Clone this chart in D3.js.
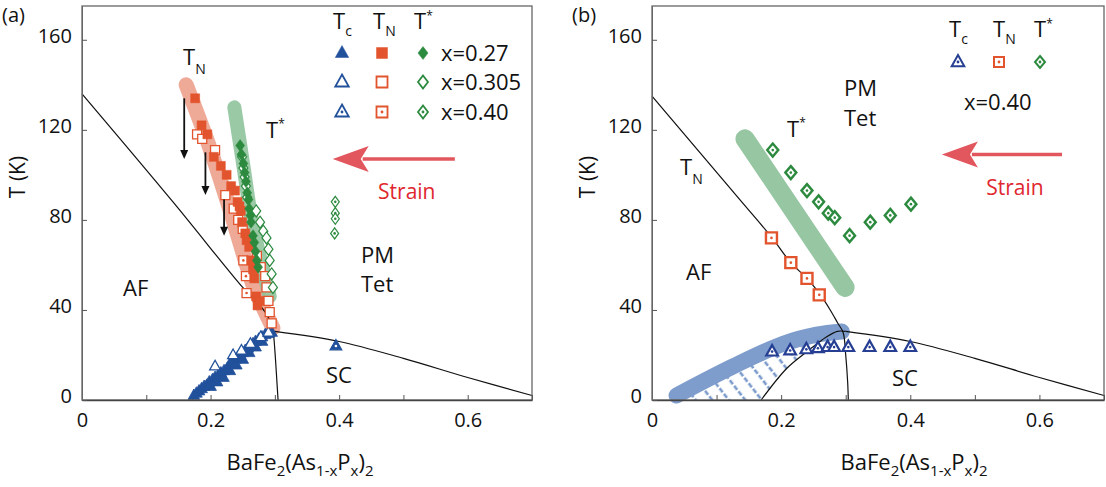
<!DOCTYPE html>
<html>
<head>
<meta charset="utf-8">
<script src="https://cdn.jsdelivr.net/npm/d3@7"></script>
<style>
body { margin: 0; background: #fff; }
text { font-family: "Open Sans", sans-serif; fill: #111; }
</style>
</head>
<body>
<div id="chart"></div>
<script>
// axis ticks
var xTickVals = [0, 0.1, 0.2, 0.3, 0.4, 0.5, 0.6, 0.7];
var xLabelVals = [0, 0.2, 0.4, 0.6];
var yTickVals = [0, 40, 80, 120, 160];

// ---- panel (a) data: [x, T] ----
var aTcFilled = [[0.174,2],[0.178,3],[0.182,4],[0.186,5],[0.19,6],[0.194,6.5],[0.198,8],[0.203,9],[0.207,10],
  [0.212,11],[0.216,12],[0.221,13],[0.226,14],[0.23,16],[0.234,16.5],[0.238,18],[0.242,19],[0.246,20],
  [0.25,21],[0.254,22],[0.258,23],[0.262,24],[0.266,25],[0.27,26],[0.275,27],[0.28,28],[0.285,29],
  [0.29,29.5],[0.295,30],[0.2,6],[0.21,8],[0.22,10],[0.23,13],[0.24,15.5],[0.25,18],[0.26,21],[0.27,23.5],[0.28,26]];
var aTcOpen = [[0.207,15],[0.235,20],[0.248,22],[0.262,25],[0.278,28],[0.29,30]];
var aTcDot = [[0.395,24]];
var aTnFilled = [[0.176,134],[0.186,122],[0.195,118],[0.205,108],[0.216,104],[0.225,100],[0.232,95],
  [0.238,93],[0.242,88],[0.245,86],[0.247,84],[0.249,79],[0.254,74],[0.256,71],[0.26,68],[0.263,62],
  [0.266,58],[0.268,54],[0.271,46],[0.273,42],[0.276,44]];
var aTnOpen = [[0.179,118],[0.187,116],[0.207,111],[0.223,91],[0.236,85],[0.243,80],[0.25,76],[0.26,72],
  [0.272,64],[0.278,59],[0.285,55],[0.287,50],[0.29,44],[0.292,39],[0.295,34]];
var aTnDot = [[0.251,62],[0.255,55],[0.256,47.5]];
var aTsFilled = [[0.246,113],[0.248,109],[0.251,105],[0.253,101],[0.255,97],[0.257,92],[0.259,89],[0.26,85],
  [0.262,82],[0.263,79],[0.266,73],[0.268,70],[0.27,66],[0.272,62],[0.274,59]];
var aTsOpen = [[0.249,108],[0.251,103],[0.253,99],[0.255,95],[0.257,90],[0.271,84],[0.277,79],[0.282,75],
  [0.287,72],[0.29,67],[0.292,62],[0.295,56],[0.297,50]];
var aTsDot = [[0.394,88],[0.394,83],[0.394,80.5],[0.393,74]];
var aTnLine = [[0,136],[0.1415,88],[0.25,50],[0.27,44],[0.285,39],[0.296,32.5],[0.298,29],[0.301,18],[0.303,9],[0.305,0]];
var aScLeft = [[0.171,0],[0.3,30.5]];
var aScRight = [[0.3,30.5],[0.4,26],[0.5,18.5],[0.6,10],[0.7,2]];
var aTnBand = [[0.162,140],[0.2,111],[0.235,80],[0.265,52],[0.277,44],[0.297,32]];
var aTsBand = [[0.237,130],[0.25,106],[0.264,80],[0.278,62],[0.292,46]];
var aDownArrows = [[0.159,134,107],[0.192,110,91],[0.221,89,73]];
var aStrain = [0.58, 0.39, 107]; // tail x, tip x, T

// ---- panel (b) data ----
var bTcDot = [[0.186,21.5],[0.214,22],[0.239,22.5],[0.257,23],[0.272,23.5],[0.282,23.5],[0.304,23.5],
  [0.337,23.5],[0.369,23.5],[0.40,23.5]];
var bTnDot = [[0.185,72],[0.215,61],[0.24,54],[0.259,46.7]];
var bTsDot = [[0.187,111],[0.215,101],[0.24,93],[0.258,88],[0.273,83],[0.283,81],[0.306,73],[0.338,79],[0.369,82],[0.401,87]];
var bTnLine = [[0,135],[0.136,89],[0.186,72],[0.215,61],[0.24,54],[0.26,47],[0.276,40],[0.288,34],[0.296,30],
  [0.3,20],[0.303,8],[0.304,0]];
var bScLeft = [[0.169,0],[0.2085,14],[0.24,21.5],[0.27,28],[0.287,30.5],[0.3,30.5]];
var bScRight = [[0.3,30.5],[0.4,26],[0.5,18.5],[0.6,10],[0.7,2]];
var bTcBand = [[0.038,2],[0.126,15],[0.2035,25],[0.255,29],[0.294,30.4]];
var bTsBand = [[0.144,116],[0.299,50]];
var bHatch = [[0.05,0],[0.045,3],[0.126,16],[0.2035,26],[0.255,30],[0.262,29],[0.255,26],[0.24,21.5],[0.2085,14],[0.169,0]];
var bStrain = [0.635, 0.449, 109];

var blue = "#22519c", orange = "#e2542d", green = "#2c8a3f";

var svg = d3.select("#chart").append("svg")
  .attr("width", 1106).attr("height", 487);

var defs = svg.append("defs");
var pat = defs.append("pattern")
  .attr("id", "hatch").attr("patternUnits", "userSpaceOnUse")
  .attr("width", 13).attr("height", 14)
  .attr("patternTransform", "rotate(-38)");
pat.append("line").attr("x1", 3).attr("x2", 3).attr("y1", 0).attr("y2", 14)
  .attr("stroke", "#7b9bcc").attr("stroke-width", 2.6).attr("stroke-dasharray", "5,2");

function triPath(r) {
  return "M0," + (-r) + "L" + (r*0.9) + "," + (r*0.6) + "L" + (-r*0.9) + "," + (r*0.6) + "Z";
}
function sqPath(h) {
  return "M" + (-h) + "," + (-h) + "H" + h + "V" + h + "H" + (-h) + "Z";
}
function diaPath(w, h) {
  return "M0," + (-h) + "L" + w + ",0L0," + h + "L" + (-w) + ",0Z";
}

function sub(t, main, s, dy, fs) {
  t.append("tspan").text(main);
  t.append("tspan").attr("dy", dy).attr("font-size", fs).text(s);
}

function drawPanel(o) {
  var x = d3.scaleLinear().domain([0, 0.7]).range([o.left, o.right]);
  var y = d3.scaleLinear().domain([0, 175]).range([o.bottom, 6]);
  var g = svg.append("g");
  var line = d3.line().x(function(d) { return x(d[0]); }).y(function(d) { return y(d[1]); });
  var smooth = d3.line().x(function(d) { return x(d[0]); }).y(function(d) { return y(d[1]); })
    .curve(d3.curveCatmullRom);

  // hatched area
  if (o.hatch) {
    g.append("path").datum(o.hatch).attr("d", line(o.hatch) + "Z")
      .attr("fill", "url(#hatch)").attr("stroke", "none");
  }

  // thick guide bands
  o.bands.forEach(function(b) {
    g.append("path").datum(b.data).attr("d", smooth)
      .attr("fill", "none").attr("stroke", b.color).attr("stroke-width", b.w)
      .attr("stroke-linecap", "round").attr("stroke-linejoin", "round")
      .attr("opacity", b.op);
  });

  // phase boundary lines
  [o.tnLine, o.scLeft, o.scRight].forEach(function(l) {
    g.append("path").datum(l).attr("d", smooth)
      .attr("fill", "none").attr("stroke", "#111").attr("stroke-width", 1.2);
  });

  // markers
  o.marks.forEach(function(m) {
    var sel = g.append("g").selectAll("g").data(m.data).join("g")
      .attr("transform", function(d) { return "translate(" + x(d[0]) + "," + y(d[1]) + ")"; });
    sel.append("path").attr("d", m.shape)
      .attr("fill", m.fill ? m.color : "#fff")
      .attr("stroke", m.color).attr("stroke-width", m.sw);
    if (m.dot) sel.append("circle").attr("r", 1.3).attr("fill", m.fill ? "#fff" : m.color);
  });

  // frame
  g.append("rect").attr("x", o.left).attr("y", y(175))
    .attr("width", o.right - o.left).attr("height", o.bottom - y(175))
    .attr("fill", "none").attr("stroke", "#666").attr("stroke-width", 1.3);

  var xa = g.append("g").attr("transform", "translate(0," + o.bottom + ")")
    .call(d3.axisBottom(x).tickValues(xTickVals).tickSizeInner(-5).tickSizeOuter(0).tickPadding(13)
      .tickFormat(function(d) {
        var k = Math.round(d * 10);
        if (k === 0) return "0";
        return xLabelVals.indexOf(k / 10) >= 0 ? (k / 10).toFixed(1) : "";
      }));
  xa.select(".domain").attr("stroke", "#444").attr("stroke-width", 1.5);
  xa.selectAll(".tick line").attr("stroke", "#555");
  xa.selectAll("text").attr("font-size", 20).attr("font-family", "Open Sans").attr("fill", "#111");

  var ya = g.append("g").attr("transform", "translate(" + o.left + ",0)")
    .call(d3.axisLeft(y).tickValues(yTickVals).tickSizeInner(-5).tickSizeOuter(0).tickPadding(10));
  ya.select(".domain").attr("stroke", "#666");
  ya.selectAll(".tick line").attr("stroke", "#555");
  ya.selectAll("text").attr("font-size", 20).attr("font-family", "Open Sans").attr("fill", "#111")
    .attr("y", -4);

  // axis titles
  var xt = g.append("text").attr("x", o.titleX).attr("y", 470).attr("text-anchor", "middle")
    .attr("font-size", 22);
  xt.append("tspan").text("BaFe");
  xt.append("tspan").attr("dy", 6).attr("font-size", 15).text("2");
  xt.append("tspan").attr("dy", -6).text("(As");
  xt.append("tspan").attr("dy", 6).attr("font-size", 15).text("1-x");
  xt.append("tspan").attr("dy", -6).text("P");
  xt.append("tspan").attr("dy", 6).attr("font-size", 15).text("x");
  xt.append("tspan").attr("dy", -6).text(")");
  xt.append("tspan").attr("dy", 6).attr("font-size", 15).text("2");

  g.append("text").attr("transform", "translate(" + (o.left - 57) + ",177) rotate(-90)")
    .attr("text-anchor", "middle").attr("font-size", 21).text("T (K)");
  g.append("text").attr("x", o.left - 80).attr("y", 22).attr("font-size", 20).text(o.tag);

  // strain arrow
  var sx0 = x(o.strain[0]), sx1 = x(o.strain[1]), sy = y(o.strain[2]);
  g.append("line").attr("x1", sx0).attr("x2", sx1 + 30).attr("y1", sy).attr("y2", sy)
    .attr("stroke", "#e2575e").attr("stroke-width", 3.5);
  g.append("path").attr("d", "M" + sx1 + "," + sy + "L" + (sx1 + 36) + "," + (sy - 13) +
      "L" + (sx1 + 28) + "," + sy + "L" + (sx1 + 36) + "," + (sy + 13) + "Z")
    .attr("fill", "#e2575e");
  g.append("text").attr("x", (sx0 + sx1) / 2 + 13).attr("y", sy + 40).attr("text-anchor", "middle")
    .attr("font-size", 21).style("fill", "#e0262e").text("Strain");

  return {x: x, y: y, g: g};
}

// ---------- panel (a) ----------
var pa = drawPanel({
  left: 82, right: 532, bottom: 400, titleX: 300, tag: "(a)",
  tnLine: aTnLine, scLeft: aScLeft, scRight: aScRight, strain: aStrain,
  bands: [
    {data: aTnBand, color: "#eb9a85", w: 15, op: 0.85},
    {data: aTsBand, color: "#8fc39c", w: 14, op: 0.9}
  ],
  marks: [
    {data: aTcFilled, shape: triPath(6.5), color: blue, fill: true, sw: 0.8},
    {data: aTcOpen, shape: triPath(6), color: blue, fill: false, sw: 1.3},
    {data: aTcDot, shape: triPath(6.5), color: blue, fill: true, sw: 1.2, dot: true},
    {data: aTnOpen, shape: sqPath(4.5), color: orange, fill: false, sw: 1.3},
    {data: aTnDot, shape: sqPath(4.5), color: orange, fill: false, sw: 1.3, dot: true},
    {data: aTnFilled, shape: sqPath(4.5), color: orange, fill: true, sw: 0.5},
    {data: aTsOpen, shape: diaPath(4.5, 6), color: green, fill: false, sw: 1.2},
    {data: aTsDot, shape: diaPath(4, 5.5), color: green, fill: false, sw: 1.2, dot: true},
    {data: aTsFilled, shape: diaPath(4.5, 6), color: green, fill: true, sw: 0.5}
  ]
});

aDownArrows.forEach(function(a) {
  var xx = pa.x(a[0]), y0 = pa.y(a[1]), y1 = pa.y(a[2]);
  pa.g.append("line").attr("x1", xx).attr("x2", xx).attr("y1", y0).attr("y2", y1 - 6)
    .attr("stroke", "#111").attr("stroke-width", 1.8);
  pa.g.append("path").attr("d", "M" + (xx - 4) + "," + (y1 - 9) + "L" + (xx + 4) + "," + (y1 - 9) + "L" + xx + "," + y1 + "Z")
    .attr("fill", "#111");
});

var ta = pa.g;
sub(ta.append("text").attr("x", 183).attr("y", 65).attr("font-size", 22), "T", "N", 9, 14);
var ts = ta.append("text").attr("x", 266).attr("y", 138).attr("font-size", 22);
sub(ts, "T", "*", -10, 12);
ta.append("text").attr("x", 123).attr("y", 296).attr("font-size", 22).text("AF");
ta.append("text").attr("x", 361).attr("y", 263).attr("font-size", 22).text("PM");
ta.append("text").attr("x", 361).attr("y", 292).attr("font-size", 22).text("Tet");
ta.append("text").attr("x", 326).attr("y", 383).attr("font-size", 22).text("SC");

// legend (a)
sub(ta.append("text").attr("x", 333).attr("y", 29).attr("font-size", 22), "T", "c", 7, 14);
sub(ta.append("text").attr("x", 373).attr("y", 29).attr("font-size", 22), "T", "N", 7, 14);
sub(ta.append("text").attr("x", 414).attr("y", 29).attr("font-size", 22), "T", "*", -9, 12);
var legRowsA = [
  {y: 53, lab: "x=0.27", fill: true, dot: false},
  {y: 82, lab: "x=0.305", fill: false, dot: false},
  {y: 112, lab: "x=0.40", fill: false, dot: true}
];
legRowsA.forEach(function(r) {
  var items = [[342, triPath(7.5), blue], [382, sqPath(5.5), orange], [423, diaPath(5, 6.5), green]];
  items.forEach(function(it) {
    var gg = ta.append("g").attr("transform", "translate(" + it[0] + "," + r.y + ")");
    gg.append("path").attr("d", it[1]).attr("fill", r.fill ? it[2] : "#fff")
      .attr("stroke", it[2]).attr("stroke-width", r.fill ? 0.5 : 1.8);
    if (r.dot) gg.append("circle").attr("r", 1.4).attr("fill", it[2]);
  });
  ta.append("text").attr("x", 441).attr("y", r.y + 8).attr("font-size", 22).text(r.lab);
});

// ---------- panel (b) ----------
var pb = drawPanel({
  left: 652, right: 1104, bottom: 400, titleX: 914, tag: "(b)",
  tnLine: bTnLine, scLeft: bScLeft, scRight: bScRight, strain: bStrain, hatch: bHatch,
  bands: [
    {data: bTcBand, color: "#7e9dcc", w: 16, op: 1},
    {data: bTsBand, color: "#96c6a2", w: 19, op: 1}
  ],
  marks: [
    {data: bTcDot, shape: triPath(6.5), color: "#263f93", fill: false, sw: 2.2, dot: true},
    {data: bTnDot, shape: sqPath(5.5), color: orange, fill: false, sw: 2.4, dot: true},
    {data: bTsDot, shape: diaPath(5.5, 6.5), color: green, fill: false, sw: 2.4, dot: true}
  ]
});

var tb = pb.g;
sub(tb.append("text").attr("x", 680).attr("y", 175).attr("font-size", 22), "T", "N", 9, 14);
sub(tb.append("text").attr("x", 787).attr("y", 137).attr("font-size", 22), "T", "*", -10, 12);
tb.append("text").attr("x", 686).attr("y", 280).attr("font-size", 22).text("AF");
tb.append("text").attr("x", 844).attr("y", 96).attr("font-size", 22).text("PM");
tb.append("text").attr("x", 844).attr("y", 126).attr("font-size", 22).text("Tet");
tb.append("text").attr("x", 892).attr("y", 386).attr("font-size", 22).text("SC");

sub(tb.append("text").attr("x", 949).attr("y", 37).attr("font-size", 22), "T", "c", 7, 14);
sub(tb.append("text").attr("x", 993).attr("y", 37).attr("font-size", 22), "T", "N", 7, 14);
sub(tb.append("text").attr("x", 1034).attr("y", 37).attr("font-size", 22), "T", "*", -9, 12);
[[958, triPath(7), "#263f93"], [999, sqPath(5), orange], [1040, diaPath(5, 6), green]].forEach(function(it) {
  var gg = tb.append("g").attr("transform", "translate(" + it[0] + ",62)");
  gg.append("path").attr("d", it[1]).attr("fill", "#fff").attr("stroke", it[2]).attr("stroke-width", 2);
  gg.append("circle").attr("r", 1.4).attr("fill", it[2]);
});
tb.append("text").attr("x", 964).attr("y", 110).attr("font-size", 22).text("x=0.40");
</script>
</body>
</html>
